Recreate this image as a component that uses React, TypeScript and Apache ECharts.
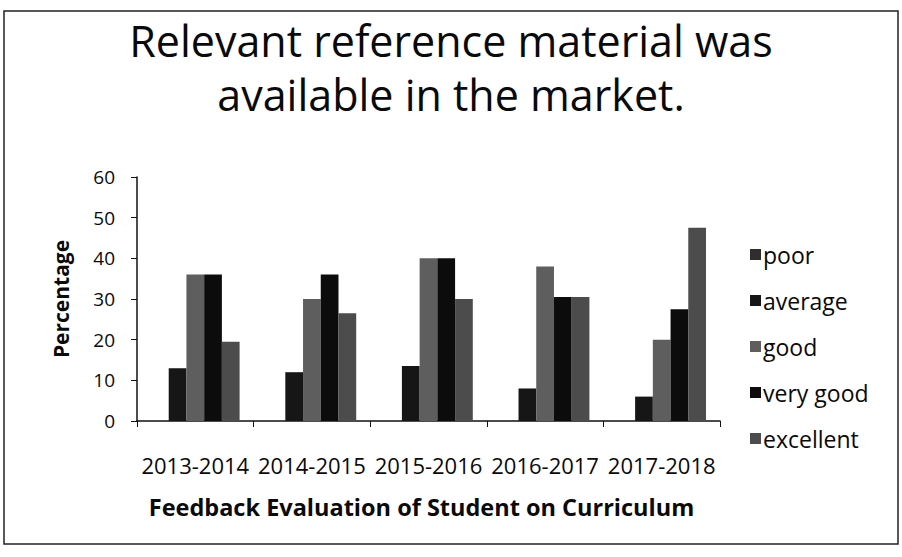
import React, { useEffect, useRef } from "react";
import * as echarts from "echarts";

const categories = ["2013-2014", "2014-2015", "2015-2016", "2016-2017", "2017-2018"];
const seriesNames = ["poor", "average", "good", "very good", "excellent"];
const poor = [0, 0, 0, 0, 0];
const average = [13, 12, 13.5, 8, 6];
const good = [36, 30, 40, 38, 20];
const veryGood = [36, 36, 40, 30.5, 27.5];
const excellent = [19.5, 26.5, 30, 30.5, 47.5];
const yTicks = [0, 10, 20, 30, 40, 50, 60];

const colors = ["#2e2e2e", "#161616", "#5e5e5e", "#0c0c0c", "#4c4c4c"];
const FONT = "'Open Sans', Lato, sans-serif";

export default function App() {
  const ref = useRef<HTMLDivElement>(null);
  useEffect(() => {
    document.body.style.margin = "0";
    const chart = echarts.init(ref.current!, null, { renderer: "svg" });
    const values = [poor, average, good, veryGood, excellent];
    chart.setOption({
      animation: false,
      backgroundColor: "#ffffff",
      textStyle: { fontFamily: FONT },
      title: {
        text: "Relevant reference material was\navailable in the market.",
        left: "center",
        top: 8,
        textStyle: { fontFamily: FONT, fontSize: 43, fontWeight: "normal", color: "#0a0a0a", lineHeight: 54 },
      },
      legend: {
        orient: "vertical",
        left: 745,
        top: 238,
        itemWidth: 11,
        itemHeight: 11,
        itemGap: 23,
        icon: "rect",
        data: seriesNames,
        textStyle: { fontFamily: FONT, fontSize: 23, lineHeight: 21, color: "#0a0a0a", padding: [0, 0, 0, -3] },
      },
      grid: { left: 137, right: 182, top: 177, bottom: 136, containLabel: false },
      xAxis: {
        type: "category",
        data: categories,
        name: "Feedback Evaluation of Student on Curriculum",
        nameLocation: "middle",
        nameGap: 74,
        nameTextStyle: {
          fontFamily: FONT,
          fontSize: 23.5,
          fontWeight: "bold",
          color: "#0a0a0a",
          padding: [0, 14, 0, 0],
        },
        axisLine: { lineStyle: { color: "#111", width: 1.5 } },
        axisTick: { show: true, inside: false, length: 6, alignWithLabel: false, lineStyle: { color: "#111" } },
        axisLabel: { interval: 0, fontFamily: FONT, fontSize: 22, color: "#0a0a0a", margin: 33 },
      },
      yAxis: {
        type: "value",
        min: yTicks[0],
        max: yTicks[yTicks.length - 1],
        interval: 10,
        name: "Percentage",
        nameLocation: "middle",
        nameRotate: 90,
        nameGap: 66,
        nameTextStyle: { fontFamily: FONT, fontSize: 21, fontWeight: "bold", color: "#0a0a0a" },
        axisLine: { show: true, lineStyle: { color: "#111", width: 1.5 } },
        axisTick: { show: true, length: 6, lineStyle: { color: "#111" } },
        axisLabel: { fontFamily: FONT, fontSize: 19, color: "#0a0a0a", margin: 22 },
        splitLine: { show: false },
      },
      graphic: [
        {
          type: "rect",
          shape: { x: 4, y: 11, width: 894, height: 533 },
          style: { fill: "none", stroke: "#222", lineWidth: 1.5 },
          silent: true,
        },
      ],
      series: seriesNames.map((name, i) => ({
        name,
        type: "bar",
        data: values[i],
        barGap: "0%",
        barCategoryGap: "24%",
        itemStyle: { color: colors[i] },
      })),
    });
    return () => chart.dispose();
  }, []);
  return <div ref={ref} style={{ width: 902, height: 557 }} />;
}
